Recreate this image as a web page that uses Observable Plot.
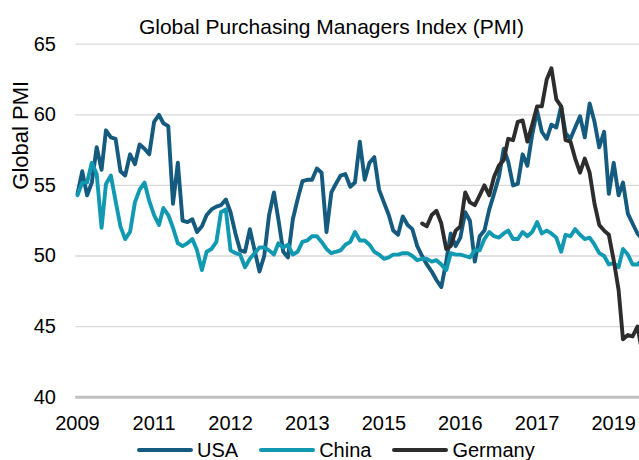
<!DOCTYPE html>
<html><head><meta charset="utf-8">
<script src="https://cdn.jsdelivr.net/npm/d3@7"></script>
<script src="https://cdn.jsdelivr.net/npm/@observablehq/plot@0.6"></script>
<style>
html,body{margin:0;padding:0;background:#fff;}
body{width:639px;height:460px;position:relative;overflow:hidden;font-family:"Liberation Sans",Arial,sans-serif;color:#000;}
#chart{position:absolute;left:0;top:0;}
#title{position:absolute;left:0;top:15.5px;width:663px;text-align:center;font-size:21px;line-height:21px;white-space:nowrap;}
#legend{position:absolute;left:137px;top:439.6px;display:flex;align-items:center;font-size:20px;line-height:20px;white-space:nowrap;}
#legend .item{display:flex;align-items:center;margin-right:21px;}
#legend .sw{width:56px;height:4px;border-radius:2px;margin-right:4px;}
</style></head><body>
<div id="chart"></div>
<div id="title"></div>
<div id="legend"></div>
<script>
const titleText = "Global Purchasing Managers Index (PMI)";
const yLabel = "Global PMI";
const seriesNames = ["USA", "China", "Germany"];
const seriesColors = ["#155a7f", "#1199b2", "#2d2d2d"];
const usaStart = "2009-09";
const chinaStart = "2009-09";
const germanyStart = "2015-09";
const usa = [
 54.4, 56.0, 54.3, 55.2, 57.7, 56.1, 58.9, 58.4, 58.3, 56.0,
 55.7, 57.2, 56.5, 57.9, 57.6, 57.2, 59.5, 60.0, 59.4, 59.2,
 53.7, 56.6, 52.5, 52.4, 52.6, 51.7, 52.1, 52.9, 53.3, 53.5,
 53.6, 54.0, 53.1, 51.6, 50.4, 50.3, 51.9, 50.4, 48.9, 50.0,
 52.9, 54.5, 52.6, 50.3, 49.9, 52.6, 54.0, 55.3, 55.4, 55.4,
 56.2, 55.9, 51.7, 54.5, 55.1, 55.7, 55.8, 54.9, 55.2, 58.1,
 55.4, 56.6, 57.0, 54.7, 53.8, 52.9, 51.8, 51.5, 52.8, 52.2,
 51.9, 50.7, 50.0, 49.4, 48.9, 48.3, 47.8, 49.6, 51.6, 50.7,
 51.3, 53.1, 52.5, 49.6, 51.4, 51.8, 53.3, 54.4, 55.6, 57.6,
 56.7, 55.0, 55.1, 57.2, 56.4, 58.6, 60.3, 58.8, 58.3, 59.3,
 59.1, 60.6, 58.7, 58.3, 59.1, 59.9, 58.4, 60.8, 59.5, 57.7,
 58.8, 54.4, 56.6, 54.3, 55.2, 53.0, 52.3, 51.6, 51.2
];
const china = [
 54.3, 55.2, 55.2, 56.6, 55.8, 52.0, 55.1, 55.7, 53.9, 52.1,
 51.2, 51.7, 53.8, 54.7, 55.2, 53.9, 52.9, 52.2, 53.4, 52.9,
 52.0, 50.9, 50.7, 50.9, 51.2, 50.4, 49.0, 50.3, 50.5, 51.0,
 53.1, 53.3, 50.4, 50.2, 50.1, 49.2, 49.8, 50.2, 50.6, 50.6,
 50.4, 50.1, 50.9, 50.6, 50.8, 50.1, 50.3, 51.0, 51.1, 51.4,
 51.4, 51.0, 50.5, 50.2, 50.3, 50.4, 50.8, 51.0, 51.7, 51.1,
 51.1, 50.8, 50.3, 50.1, 49.8, 49.9, 50.1, 50.1, 50.2, 50.2,
 50.0, 49.7, 49.8, 49.8, 49.6, 49.7, 49.4, 49.0, 50.2, 50.1,
 50.1, 50.0, 49.9, 50.4, 50.4, 51.2, 51.7, 51.4, 51.3, 51.6,
 51.8, 51.2, 51.2, 51.7, 51.4, 51.7, 52.4, 51.6, 51.8, 51.6,
 51.3, 50.3, 51.5, 51.4, 51.9, 51.5, 51.2, 51.3, 50.8, 50.2,
 50.0, 49.4, 49.5, 49.2, 50.5, 50.1, 49.4, 49.4, 49.7
];
const germany = [
 52.3, 52.1, 52.9, 53.2,
 52.3, 50.5, 50.7, 51.8, 52.1, 54.5, 53.8, 53.6, 54.3, 55.0, 54.3, 55.6,
 56.4, 56.8, 58.3, 58.2, 59.5, 59.6, 58.1, 59.3, 60.6, 60.6, 62.5, 63.3,
 61.1, 60.6, 58.2, 58.1, 56.9, 55.9, 56.9, 55.9, 53.7, 52.2, 51.8, 51.5,
 49.7, 47.6, 44.1, 44.4, 44.3, 45.0, 43.2
];
const xTickMonths = ["2009-09", "2011-01", "2012-05", "2013-09", "2015-01", "2016-05", "2017-09", "2019-01"];
const yTicks = [40, 45, 50, 55, 60, 65];

const parseMonth = d3.utcParse("%Y-%m");
function monthly(start, values, name) {
  const t0 = parseMonth(start);
  return values.map((v, i) => ({date: d3.utcMonth.offset(t0, i), value: v, series: name}));
}
const data = [
  ...monthly(usaStart, usa, seriesNames[0]),
  ...monthly(chinaStart, china, seriesNames[1]),
  ...monthly(germanyStart, germany, seriesNames[2])
];

const font = '"Liberation Sans", Arial, sans-serif';
const chart = Plot.plot({
  width: 639,
  height: 460,
  marginLeft: 70,
  marginRight: 0,
  marginTop: 43.7,
  marginBottom: 63.3,
  style: {fontFamily: font, fontSize: "20px", color: "#000", background: "#fff"},
  x: {
    type: "utc",
    domain: [new Date(Date.UTC(2009, 8, 1)), new Date(Date.UTC(2019, 5, 14))],
    range: [77, 639],
    ticks: xTickMonths.map(parseMonth),
    tickFormat: d3.utcFormat("%Y"),
    tickSize: 0,
    tickPadding: 19,
    label: null
  },
  y: {domain: [40, 65], ticks: yTicks, tickSize: 0, tickPadding: 14.5, label: null},
  color: {domain: seriesNames, range: seriesColors},
  marks: [
    Plot.ruleY(yTicks.filter(d => d > 40), {stroke: "#d9d9d9", strokeWidth: 1.3, insetLeft: 5.3}),
    Plot.ruleY([40], {stroke: "#bfbfbf", strokeWidth: 3, insetLeft: 5.3}),
    Plot.lineY(data, {x: "date", y: "value", z: "series", stroke: "series", strokeWidth: 3.9, clip: true}),
    Plot.text([yLabel], {text: d => d, frameAnchor: "left", rotate: -90, dx: -49.2, dy: -31, fontSize: 22, fill: "#000"})
  ]
});
document.getElementById("chart").appendChild(chart);
document.getElementById("title").textContent = titleText;

const legend = document.getElementById("legend");
seriesNames.forEach((name, i) => {
  const item = document.createElement("div");
  item.className = "item";
  const sw = document.createElement("div");
  sw.className = "sw";
  sw.style.background = seriesColors[i];
  const lab = document.createElement("span");
  lab.textContent = name;
  item.appendChild(sw);
  item.appendChild(lab);
  legend.appendChild(item);
});
</script>
</body></html>
